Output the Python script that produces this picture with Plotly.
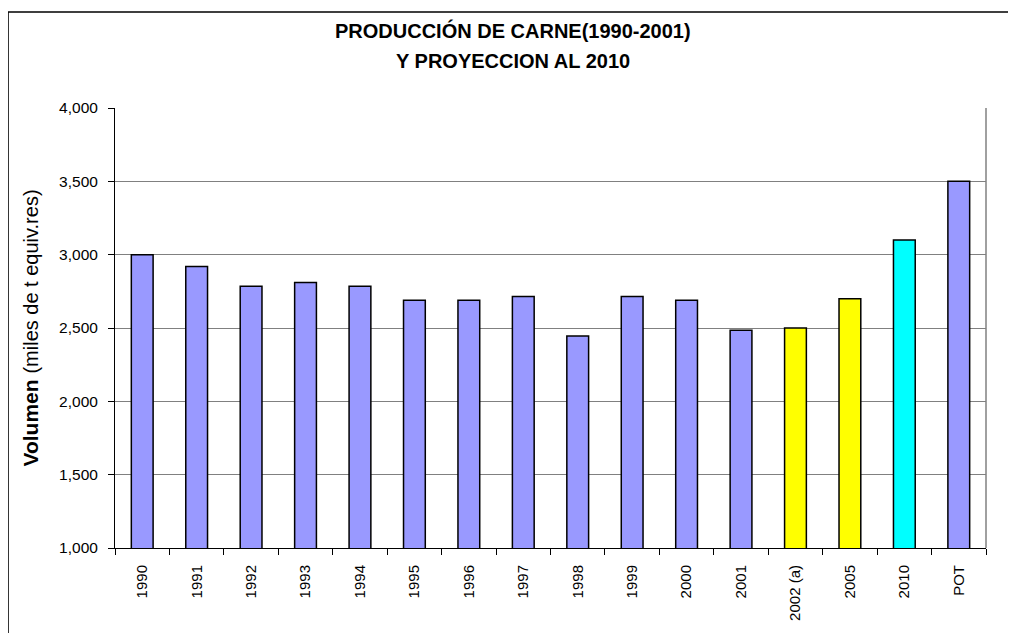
import plotly.graph_objects as go

# datos
anios = ["1990", "1991", "1992", "1993", "1994", "1995", "1996", "1997",
         "1998", "1999", "2000", "2001", "2002 (a)", "2005", "2010", "POT"]
volumen = [3000, 2920, 2785, 2810, 2785, 2690, 2690, 2715,
           2445, 2715, 2690, 2485, 2500, 2700, 3100, 3500]
tipo = ["real"] * 12 + ["estim", "estim", "proy", "real"]

y_ticks = [1000, 1500, 2000, 2500, 3000, 3500, 4000]
y_ticktext = ["1,000", "1,500", "2,000", "2,500", "3,000", "3,500", "4,000"]

titulo = ["PRODUCCIÓN DE CARNE(1990-2001)", "Y PROYECCION AL 2010"]

colores = {"real": "#9999FF", "estim": "#FFFF00", "proy": "#00FFFF"}

fig = go.Figure()
fig.add_bar(x=anios, y=volumen,
            marker=dict(color=[colores[t] for t in tipo],
                        line=dict(color="black", width=1.5)),
            showlegend=False)

fuente = "Liberation Sans, Arial, sans-serif"

# la pagina tiene 8px de margen en el body, por eso los margenes van corridos
fig.update_layout(
    width=1016, height=633,
    margin=dict(l=107, r=38, t=100, b=93),
    paper_bgcolor="white", plot_bgcolor="white",
    bargap=0.6,
    font=dict(family=fuente, color="black"),
)

# titulo en dos lineas
for i, linea in enumerate(titulo):
    fig.add_annotation(text="<b>" + linea + "</b>", xref="paper", yref="paper",
                       x=0.457, y=1.175 - i * 0.068, xanchor="center", yanchor="middle",
                       showarrow=False, font=dict(size=20, family=fuente))

fig.update_xaxes(type="category", showline=True, linecolor="black", linewidth=1,
                 ticks="outside", tickson="boundaries", ticklen=6, tickcolor="black",
                 tickangle=-90, tickfont=dict(size=15), ticklabelstandoff=10,
                 showgrid=False)
fig.update_yaxes(range=[1000, 4000], tickvals=y_ticks, ticktext=y_ticktext,
                 showline=True, linecolor="black", linewidth=1,
                 ticks="outside", ticklen=6, tickcolor="black",
                 tickfont=dict(size=15.5), ticklabelstandoff=7,
                 showgrid=True, gridcolor="#808080", gridwidth=1,
                 title=dict(text="<b>Volumen</b> <span style='font-size:20px'>(miles de t equiv.res)</span>",
                            font=dict(size=21), standoff=14))

# borde derecho gris del area de trazado y marco exterior del grafico
fig.add_shape(type="line", xref="paper", yref="paper", x0=1, x1=1, y0=0, y1=1,
              line=dict(color="#808080", width=1.5))
fig.add_shape(type="rect", xref="paper", yref="paper",
              x0=-0.1228, x1=1.06, y0=-0.25, y1=1.218,
              line=dict(color="black", width=1.5))

fig.write_html("out.html")
